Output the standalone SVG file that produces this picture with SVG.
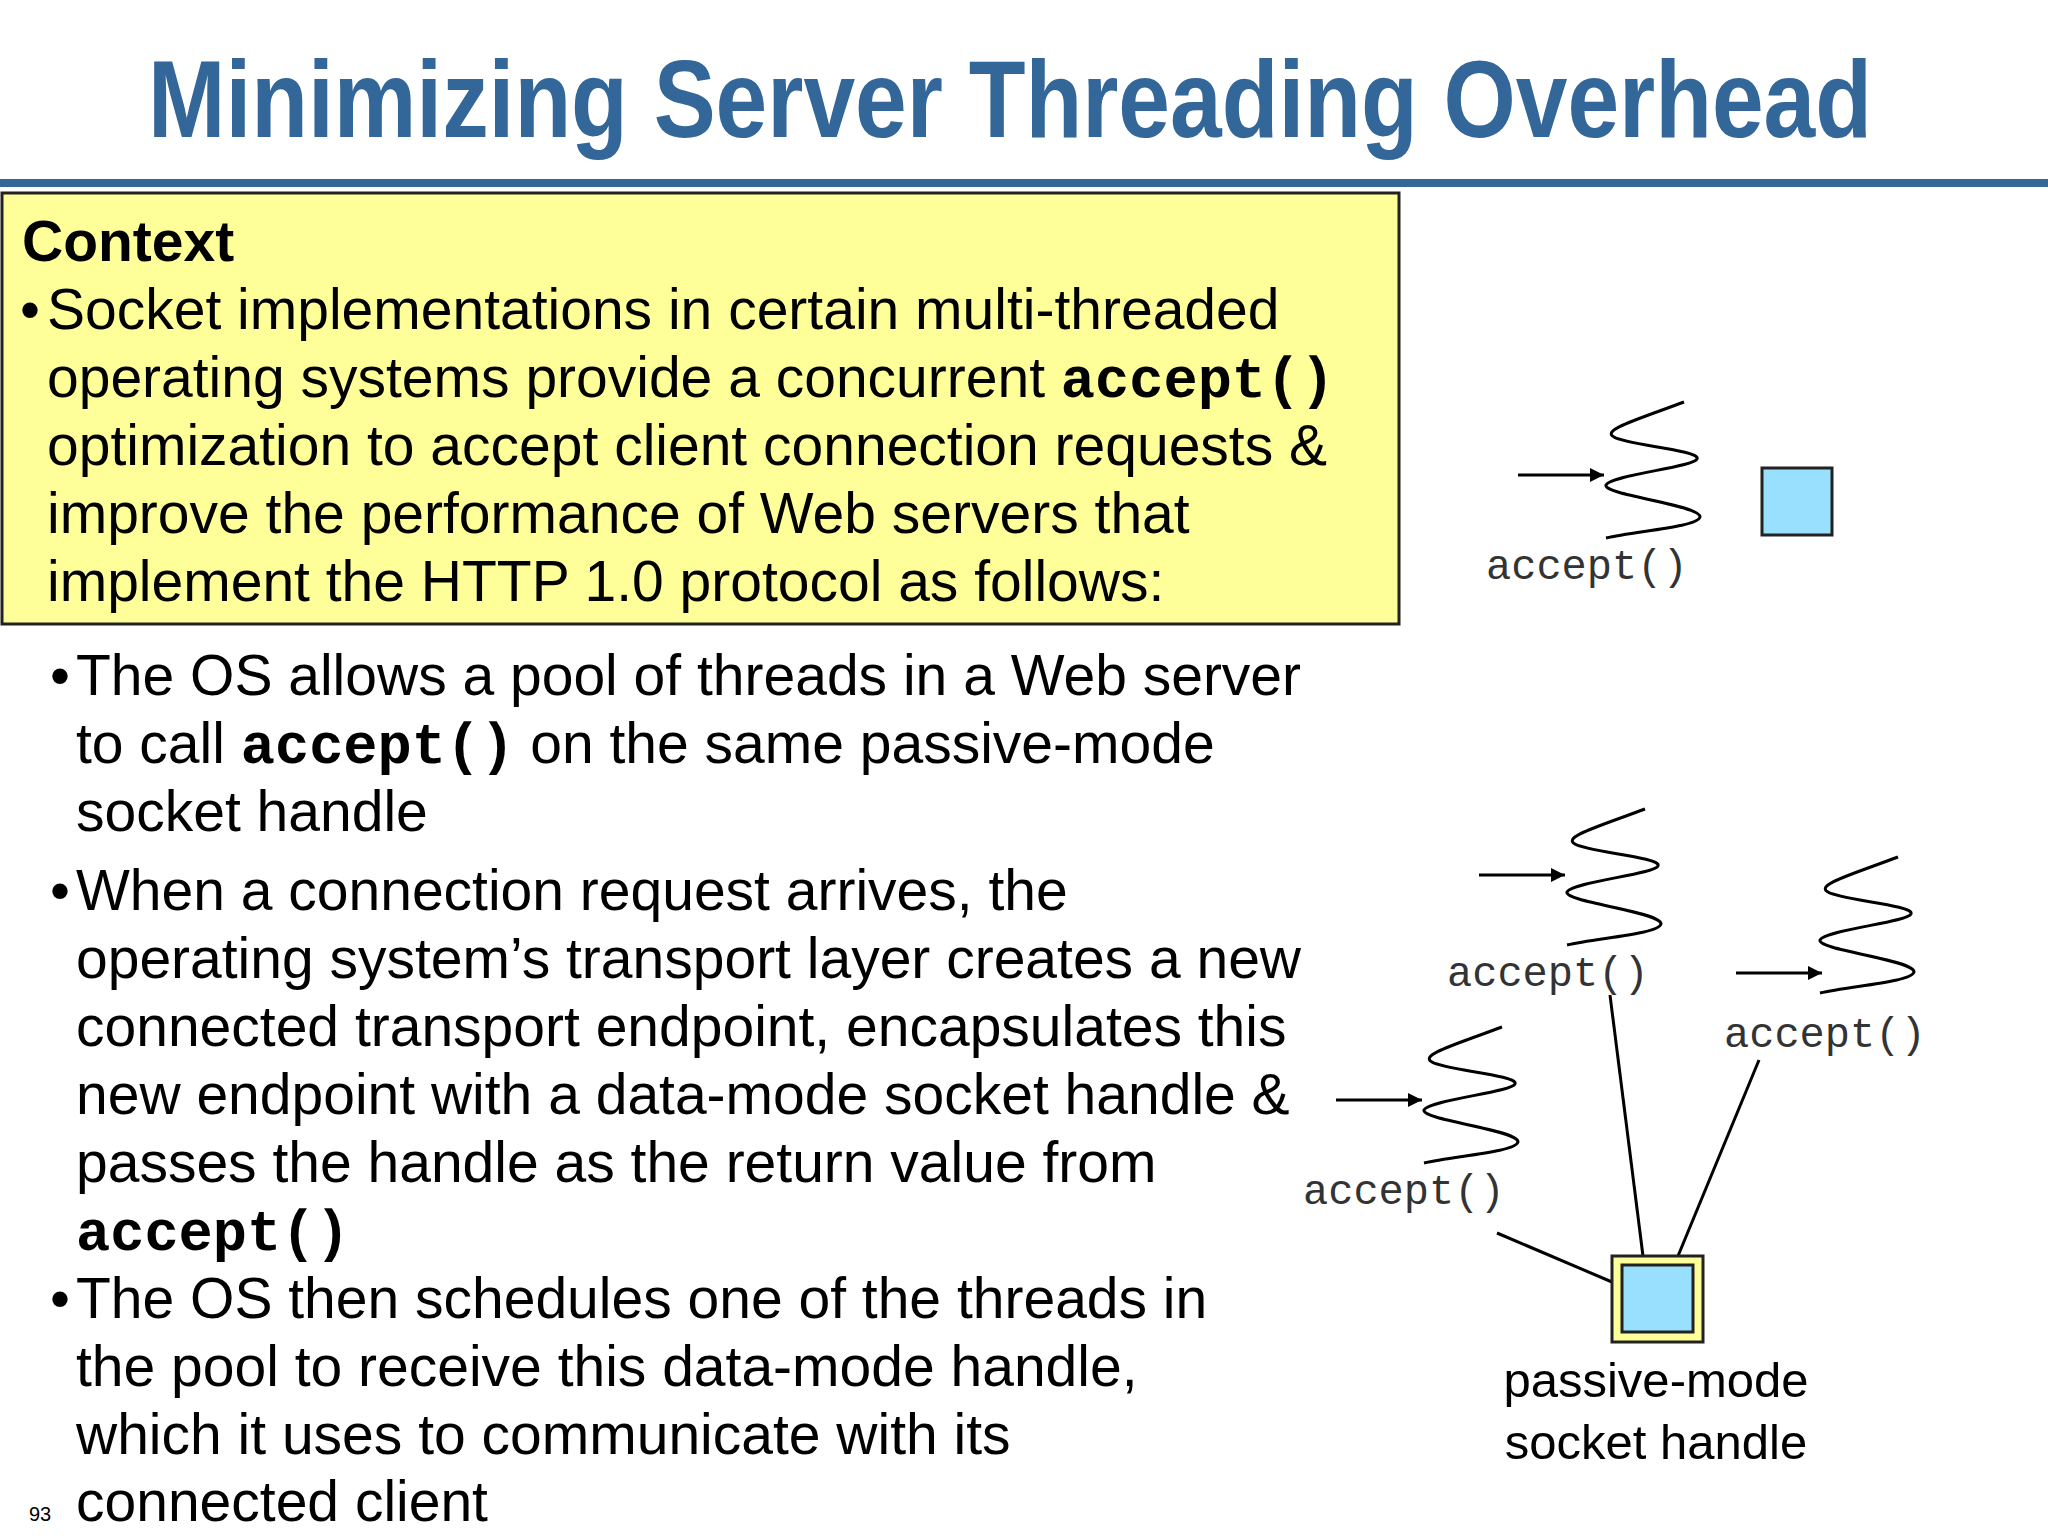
<svg xmlns="http://www.w3.org/2000/svg" width="2048" height="1536" viewBox="0 0 2048 1536">
<style>
.t{font-family:"Liberation Sans",Arial,sans-serif;font-size:57px;fill:#000}
.m{font-family:"Liberation Mono","Courier New",monospace;font-weight:bold}
.lab{font-family:"Liberation Mono","Courier New",monospace;font-size:42px;fill:#333}
.pm{font-family:"Liberation Sans",Arial,sans-serif;font-size:49px;fill:#000}
.sq{fill:#99e0ff;stroke:#222;stroke-width:3}
.ln{stroke:#000;stroke-width:3;fill:none}
</style>
<defs>
<marker id="ah2" viewBox="0 0 10 10" refX="10" refY="5" markerWidth="18" markerHeight="14" orient="auto" markerUnits="userSpaceOnUse"><path d="M0,0 L10,5 L0,10Z" fill="#000"/></marker>
<line id="arr" x1="-88" y1="0" x2="-2" y2="0" class="ln" marker-end="url(#ah2)"/>
<path id="sq" class="ln" d="M78,-73 C30,-55 -5,-45 8,-38 C20,-30 95,-25 91,-16 C88,-8 5,0 0,10 C-3,20 95,30 94,42 C92,52 30,56 0,63"/>
</defs>
<rect width="2048" height="1536" fill="#fff"/>
<text x="148" y="137" font-family="Liberation Sans,Arial,sans-serif" font-weight="bold" font-size="110" fill="#336699" textLength="1724" lengthAdjust="spacingAndGlyphs">Minimizing Server Threading Overhead</text>
<rect x="0" y="179" width="2048" height="8" fill="#336699"/>
<g id="context">
<rect x="2" y="193" width="1397" height="431" fill="#ffff99" stroke="#222" stroke-width="3"/>
<text class="t" x="22" y="261" font-weight="bold">Context</text>
<text class="t" x="20" y="329">•</text>
<text class="t" x="47" y="329">Socket implementations in certain multi-threaded</text>
<text class="t" x="47" y="397">operating systems provide a concurrent <tspan class="m">accept()</tspan></text>
<text class="t" x="47" y="465">optimization to accept client connection requests &amp;</text>
<text class="t" x="47" y="533">improve the performance of Web servers that</text>
<text class="t" x="47" y="601">implement the HTTP 1.0 protocol as follows:</text>
</g>
<g id="bullets">
<text class="t" x="50" y="695">•</text>
<text class="t" x="76" y="695">The OS allows a pool of threads in a Web server</text>
<text class="t" x="76" y="763">to call <tspan class="m">accept()</tspan> on the same passive-mode</text>
<text class="t" x="76" y="831">socket handle</text>
<text class="t" x="50" y="910">•</text>
<text class="t" x="76" y="910">When a connection request arrives, the</text>
<text class="t" x="76" y="978">operating system’s transport layer creates a new</text>
<text class="t" x="76" y="1046">connected transport endpoint, encapsulates this</text>
<text class="t" x="76" y="1114">new endpoint with a data-mode socket handle &amp;</text>
<text class="t" x="76" y="1182">passes the handle as the return value from</text>
<text class="t m" x="76" y="1250">accept()</text>
<text class="t" x="50" y="1318">•</text>
<text class="t" x="76" y="1318">The OS then schedules one of the threads in</text>
<text class="t" x="76" y="1386">the pool to receive this data-mode handle,</text>
<text class="t" x="76" y="1454">which it uses to communicate with its</text>
<text class="t" x="76" y="1521">connected client</text>
<text x="29" y="1521" font-family="Liberation Sans,Arial,sans-serif" font-size="20">93</text>
</g>
<g id="thread-top"><use href="#arr" x="1606" y="475"/><use href="#sq" x="1606" y="475"/><text class="lab" x="1486" y="579">accept()</text></g>
<g id="handle-top"><rect class="sq" x="1762" y="468" width="70" height="67"/></g>
<g id="thread-a"><use href="#arr" x="1567" y="875"/><use href="#sq" x="1567" y="882"/><text class="lab" x="1447" y="986">accept()</text></g>
<g id="thread-b"><use href="#arr" x="1824" y="973"/><use href="#sq" x="1820" y="930"/><text class="lab" x="1724" y="1047">accept()</text></g>
<g id="thread-c"><use href="#arr" x="1424" y="1100"/><use href="#sq" x="1424" y="1100"/><text class="lab" x="1303" y="1204">accept()</text></g>
<g id="connectors">
<line class="ln" x1="1610" y1="995" x2="1643" y2="1256"/>
<line class="ln" x1="1759" y1="1060" x2="1678" y2="1256"/>
<line class="ln" x1="1497" y1="1233" x2="1612" y2="1282"/>
</g>
<g id="passive-handle">
<rect x="1612" y="1256" width="91" height="86" fill="#ffff99" stroke="#222" stroke-width="3"/>
<rect class="sq" x="1622" y="1265" width="71" height="67"/>
<text class="pm" x="1656" y="1397" text-anchor="middle">passive-mode</text>
<text class="pm" x="1656" y="1459" text-anchor="middle">socket handle</text>
</g>
</svg>
